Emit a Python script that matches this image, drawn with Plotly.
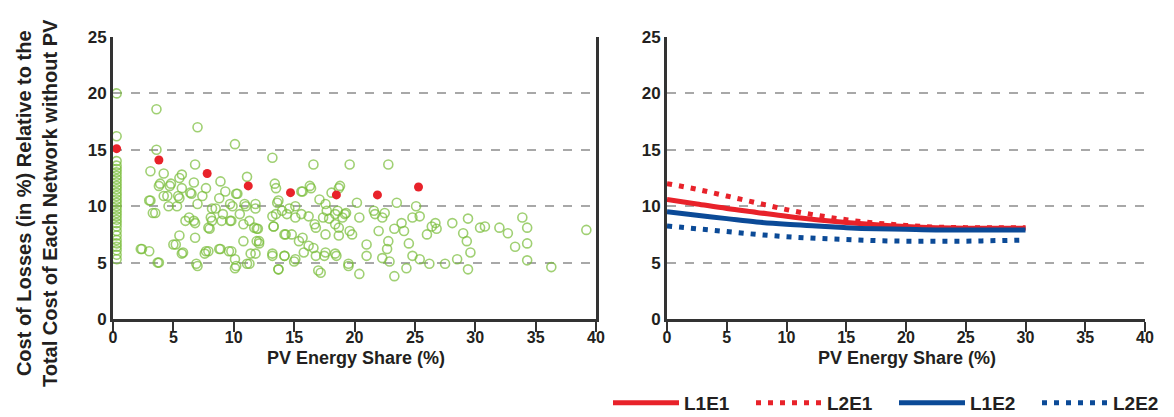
import plotly.graph_objects as go

# ---------- data: left panel scatter (PV share %, loss cost %) ----------
col_x = [0.3] * 30
col_y = [20.0, 16.2, 14.0, 13.6, 13.3, 13.0, 12.7, 12.4, 12.1, 11.8, 11.5, 11.2,
         10.9, 10.6, 10.3, 10.0, 9.7, 9.4, 9.1, 8.8, 8.5, 8.2, 7.8, 7.4, 7.0,
         6.7, 6.4, 6.1, 5.7, 5.3]

pts_x = [3.6, 7.0, 10.1, 13.2, 16.6, 19.6, 22.8, 3.6, 6.8, 3.1, 4.2, 5.7, 11.1,
         3.9, 4.7, 5.5, 5.7, 4.5, 5.5, 3.1, 3.5, 6.7, 6.4, 7.4, 7.0, 5.3, 6.3, 6.0,
         6.8, 8.2, 8.2, 8.0, 8.9, 8.8, 9.3, 9.7, 10.3, 10.5, 10.9, 11.8, 11.7, 11.9,
         11.3, 9.7, 9.0, 13.4, 13.6, 14.0, 14.4, 15.1, 15.6, 13.2, 13.3, 14.2, 14.8,
         15.4, 15.8, 16.3, 15.6, 17.1, 17.7, 18.4, 19.0, 19.6, 18.7, 17.9, 16.7, 16.6,
         17.0, 17.5, 18.4, 19.5, 20.2, 20.4, 18.8, 18.1,
         2.4, 3.0, 3.8, 5.0, 5.5, 5.7, 7.0, 6.8, 7.6, 7.9, 8.9, 9.6, 10.1, 10.1, 11.1,
         11.8, 12.1, 13.2, 13.7, 14.2, 15.0, 11.9,
         39.2, 36.3, 33.9, 34.3, 33.3, 34.3, 34.3, 32.7, 32.0, 30.8, 30.4, 29.4, 29.4,
         29.6, 29.3, 29.0, 28.5, 27.5, 28.1, 26.7, 26.0, 26.2, 25.4, 23.5, 25.1, 24.5,
         24.8, 24.3, 23.3, 20.4, 21.0, 21.0, 22.3, 22.9, 22.8, 22.7, 19.2, 21.7, 22.3,
         23.9, 24.8, 25.4, 22.0, 23.3, 19.8, 24.1, 21.6, 22.5, 26.4, 26.8,
         3.8, 4.8, 4.2, 5.4, 4.6, 3.0, 3.3, 6.5, 7.7, 8.5, 8.1, 9.1, 6.7, 5.2, 5.8,
         2.3, 3.7, 6.9, 7.7, 8.8, 7.9,
         10.2, 9.9, 11.0, 11.8, 9.8, 10.8, 12.0, 10.8, 12.1, 9.8, 11.4, 10.2, 11.3,
         13.5, 13.7, 14.6, 13.5, 15.7, 16.4, 15.1, 16.2, 13.3, 14.3, 15.7, 16.2, 16.8,
         17.4, 17.6, 18.7, 18.6, 19.3, 18.4, 17.6, 18.7, 13.2, 14.2, 15.1, 13.7, 16.8,
         17.6, 18.5, 17.2, 19.5]
pts_y = [18.6, 17.0, 15.5, 14.3, 13.7, 13.7, 13.7, 15.0, 13.7, 13.1, 12.9, 12.8, 12.6,
         12.0, 11.8, 12.5, 11.6, 10.9, 10.7, 10.5, 9.4, 12.1, 11.2, 10.9, 10.2, 10.0,
         9.0, 8.7, 8.5, 9.8, 8.7, 8.0, 12.2, 10.7, 11.3, 10.2, 11.1, 9.3, 10.2, 10.2,
         8.1, 6.9, 8.7, 8.7, 8.7, 12.0, 10.3, 9.6, 9.3, 9.0, 9.3, 9.1, 8.2, 7.5, 7.5,
         6.9, 5.9, 11.8, 11.3, 10.6, 9.6, 9.3, 9.0, 7.8, 8.1, 8.9, 8.4, 6.3, 4.3, 5.6,
         5.8, 4.7, 10.3, 9.0, 11.8, 11.2,
         6.2, 6.0, 5.0, 6.6, 7.4, 5.8, 4.7, 7.2, 5.8, 6.0, 6.2, 6.0, 5.3, 4.5, 4.9,
         5.8, 6.9, 5.6, 4.4, 5.6, 5.1, 8.0,
         7.9, 4.6, 9.0, 8.1, 6.4, 6.7, 5.2, 7.6, 8.1, 8.2, 8.1, 8.9, 4.4, 5.9, 6.9,
         7.6, 5.3, 4.9, 8.5, 8.5, 7.5, 4.9, 5.3, 10.3, 10.0, 6.7, 5.6, 4.5, 3.8, 4.0,
         5.6, 6.6, 5.4, 5.1, 6.9, 6.2, 9.3, 9.3, 9.0, 8.5, 9.0, 9.1, 7.8, 8.0, 7.5,
         7.8, 9.6, 9.4, 8.2, 8.0,
         11.8, 12.0, 10.9, 10.9, 10.0, 10.5, 9.4, 11.1, 11.6, 9.8, 9.0, 9.3, 8.7, 6.6,
         5.9, 6.2, 5.0, 4.9, 6.0, 6.2, 8.1,
         11.1, 10.0, 10.0, 9.8, 8.7, 8.4, 8.0, 6.9, 6.7, 6.0, 5.8, 4.7, 4.9,
         11.6, 10.5, 9.8, 9.3, 11.3, 11.6, 10.0, 9.1, 8.2, 7.5, 7.2, 6.5, 8.1,
         9.0, 10.2, 11.6, 9.6, 9.4, 8.4, 7.5, 7.4, 5.8, 5.6, 5.3, 4.4, 5.6,
         5.9, 5.6, 4.1, 4.9]

red_x = [0.3, 3.8, 7.8, 11.2, 14.7, 18.5, 21.9, 25.3]
red_y = [15.1, 14.1, 12.9, 11.8, 11.2, 11.0, 11.0, 11.7]

# ---------- data: right panel curves ----------
line_x = [0, 2.5, 5, 7.5, 10, 12.5, 15, 17.5, 20, 22.5, 25, 27.5, 30]
l1e1 = [10.6, 10.2, 9.8, 9.45, 9.1, 8.8, 8.55, 8.35, 8.2, 8.1, 8.05, 8.05, 8.05]
l2e1 = [12.0, 11.5, 10.9, 10.3, 9.7, 9.2, 8.8, 8.5, 8.3, 8.15, 8.1, 8.1, 8.1]
l1e2 = [9.5, 9.2, 8.9, 8.6, 8.4, 8.25, 8.1, 8.0, 7.95, 7.9, 7.9, 7.9, 7.9]
l2e2 = [8.25, 8.0, 7.75, 7.5, 7.3, 7.15, 7.05, 6.95, 6.9, 6.9, 6.9, 6.95, 7.0]

x_ticks = [0, 5, 10, 15, 20, 25, 30, 35, 40]
y_ticks = [0, 5, 10, 15, 20, 25]

RED = "#e8222a"
BLUE = "#0b4a97"
FONT = "Liberation Sans Narrow, Arial Narrow, Liberation Sans, Arial, sans-serif"
TXT = "#231f20"

fig = go.Figure()

fig.add_trace(go.Scatter(
    x=col_x + pts_x, y=col_y + pts_y, mode="markers", showlegend=False,
    marker=dict(size=9, color="rgba(255,255,255,0)",
                line=dict(color="rgba(120,188,55,0.7)", width=1.6)),
    xaxis="x", yaxis="y"))
fig.add_trace(go.Scatter(
    x=red_x, y=red_y, mode="markers", showlegend=False,
    marker=dict(size=9, color=RED, line=dict(width=0)),
    xaxis="x", yaxis="y"))

for name, ys, color, dash in [("L1E1", l1e1, RED, "solid"),
                              ("L2E1", l2e1, RED, "5px,7px"),
                              ("L1E2", l1e2, BLUE, "solid"),
                              ("L2E2", l2e2, BLUE, "5px,7px")]:
    fig.add_trace(go.Scatter(
        x=line_x, y=ys, mode="lines", name=name,
        line=dict(color=color, width=5, dash=dash, shape="spline"),
        xaxis="x2", yaxis="y2"))

W, H = 1174, 417
OX, OY = 6, 7  # page offset compensation
ydom = [(H - (318 - OY)) / H, (H - (36 - OY)) / H]

axis_common = dict(
    range=[0, 40], tickvals=x_ticks, showgrid=False, zeroline=False,
    showline=True, linecolor="#333333", linewidth=3, automargin=False,
    ticks="outside", ticklen=10, tickwidth=2, tickcolor="#333333",
    ticklabelstandoff=-8,
    tickfont=dict(family=FONT, size=16, color=TXT, weight="bold"))
yaxis_common = dict(
    range=[0, 25], tickvals=y_ticks, showgrid=True, gridcolor="#a8a8a8",
    gridwidth=1.5, griddash="dash", zeroline=False, automargin=False,
    showline=True, linecolor="#333333", linewidth=3, ticks="",
    tickfont=dict(family=FONT, size=17, color=TXT, weight="bold"))

fig.update_layout(
    width=W, height=H, paper_bgcolor="white", plot_bgcolor="white",
    margin=dict(l=0, r=0, t=0, b=0),
    xaxis=dict(domain=[(111 - OX) / W, (594 - OX) / W], anchor="y", **axis_common),
    yaxis=dict(domain=ydom, anchor="x", mirror=True, **yaxis_common),
    xaxis2=dict(domain=[(665 - OX) / W, (1143 - OX) / W], anchor="y2", **axis_common),
    yaxis2=dict(domain=ydom, anchor="x2", **yaxis_common),
    legend=dict(orientation="h", x=600 / W, xanchor="left", y=3 / H,
                yanchor="bottom", itemwidth=66, entrywidth=62,
                entrywidthmode="pixels", borderwidth=0,
                font=dict(family=FONT, size=19, color=TXT, weight="bold"),
                bgcolor="rgba(0,0,0,0)"),
    showlegend=True)

fig.add_annotation(
    text="<b>Cost of Losses (in %) Relative to the<br>"
         "Total Cost of Each Network without PV</b>",
    xref="paper", yref="paper", x=(35 - OX) / W, y=(H - (202 - OY)) / H,
    xanchor="center", yanchor="middle", textangle=-90, showarrow=False,
    font=dict(family=FONT, size=20, color=TXT))

for cx in [354, 905]:
    fig.add_annotation(
        text="<b>PV Energy Share (%)</b>", xref="paper", yref="paper",
        x=(cx - OX) / W, y=(H - (357 - OY)) / H, xanchor="center",
        yanchor="middle", showarrow=False,
        font=dict(family=FONT, size=18, color=TXT))

fig.write_html("out.html")
